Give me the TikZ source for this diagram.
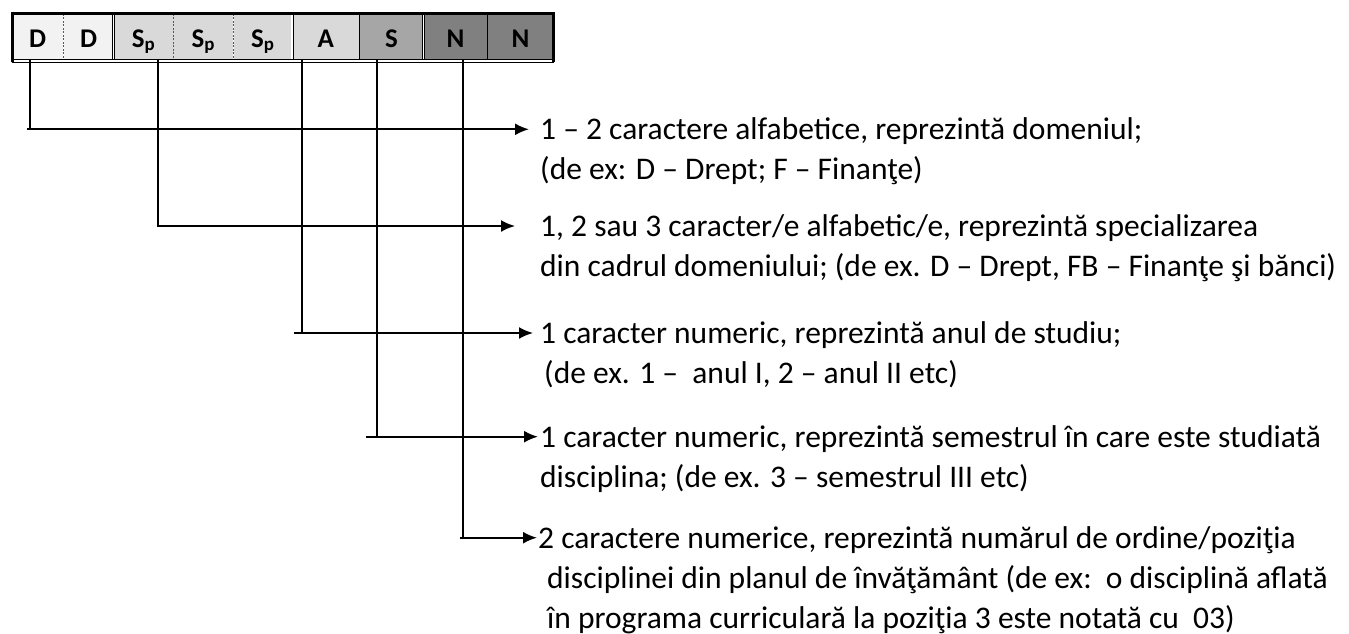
\documentclass[tikz,border=0pt]{standalone}
\usepackage{fontspec}
\setmainfont{Carlito}
\usetikzlibrary{arrows.meta,positioning}
\definecolor{celllight}{HTML}{F2F2F2}
\definecolor{cellmid}{HTML}{D9D9D9}
\definecolor{celldark}{HTML}{A6A6A6}
\definecolor{celldeep}{HTML}{808080}
\definecolor{sepgray}{HTML}{595959}
\newcommand{\spcode}{S\textsubscript{p}}
\newcommand{\desclines}[1]{\begin{tabular}[t]{@{}l@{}}#1\end{tabular}}

\begin{document}
\begin{tikzpicture}[x=1pt,y=-1pt,node distance=0pt]
  \tikzset{codecell/.style={inner sep=0pt, minimum height=45.2pt, text height=21pt, text depth=0pt, font=\fontsize{27}{32}\selectfont\bfseries},
    desc/.style={anchor=base west, inner sep=0pt, font=\fontsize{31.5}{40}\selectfont},
    link/.style={line width=2pt},
    pointer/.style={line width=2pt, -{Latex[length=14pt,width=12pt]}},
    dashsep/.style={line width=1pt, sepgray, dash pattern=on 2pt off 1.5pt},
    dblsep/.style={double=white, double distance=1.2pt, line width=0.9pt},
    onesep/.style={line width=1.3pt}}
  \useasboundingbox (0,0) rectangle (1349,634);
  % the code
  \node[codecell, fill=celllight, minimum width=51pt, anchor=north west] (c1) at (12,13.8) {D};
  \node[codecell, fill=celllight, minimum width=50pt, right=of c1] (c2) {D};
  \node[codecell, fill=cellmid, minimum width=59pt, right=of c2] (c3) {\spcode};
  \node[codecell, fill=cellmid, minimum width=60pt, right=of c3] (c4) {\spcode};
  \node[codecell, fill=cellmid, minimum width=58pt, right=of c4] (c5) {\spcode};
  \node[codecell, fill=cellmid, minimum width=67pt, right=of c5] (c6) {A};
  \node[codecell, fill=celldark, minimum width=64pt, right=of c6] (c7) {S};
  \node[codecell, fill=celldeep, minimum width=63pt, right=of c7] (c8) {N};
  \node[codecell, fill=celldeep, minimum width=66pt, right=of c8] (c9) {N};
  \draw[dashsep] (c1.north east) -- (c1.south east);
  \draw[dblsep] (c2.north east) -- (c2.south east);
  \draw[dashsep] (c3.north east) -- (c3.south east);
  \draw[dashsep] (c4.north east) -- (c4.south east);
  \draw[dblsep] (c5.north east) -- (c5.south east);
  \draw[onesep] (c6.north east) -- (c6.south east);
  \draw[dblsep] (c7.north east) -- (c7.south east);
  \draw[onesep] (c8.north east) -- (c8.south east);
  \draw[line width=3pt] ([yshift=-3pt]c1.south west) -- (c1.north west) -- (c9.north east) -- ([yshift=-3pt]c9.south east);
  \draw[line width=1.3pt] (c1.south west) -- (c9.south east);
  \draw[line width=1.3pt] ([yshift=-2.8pt]c1.south west) -- ([yshift=-2.8pt]c9.south east);

  % explanations
  \node[desc] (t1) at (540,139) {\desclines{1 – 2 caractere alfabetice, reprezintă domeniul;\\(de ex: D – Drept; F – Finanţe)}};
  \node[desc] (t2) at (540,236) {\desclines{1, 2 sau 3 caracter/e alfabetic/e, reprezintă specializarea\\din cadrul domeniului; (de ex. D – Drept, FB – Finanţe şi bănci)}};
  \node[desc] (t3) at (540,343) {\desclines{1 caracter numeric, reprezintă anul de studiu;\\\hspace*{4pt}(de ex. 1 –\ \ anul I, 2 – anul II etc)}};
  \node[desc] (t4) at (540,447) {\desclines{1 caracter numeric, reprezintă semestrul în care este studiată\\disciplina; (de ex. 3 – semestrul III etc)}};
  \node[desc] (t5) at (538,548) {\desclines{2 caractere numerice, reprezintă numărul de ordine/poziţia\\\hspace*{9pt}disciplinei din planul de învăţământ (de ex:\ \ o disciplină aflată\\\hspace*{9pt}în programa curriculară la poziţia 3 este notată cu\ \ 03)}};

  % connectors
  \coordinate (k1) at (30,129.3);
  \coordinate (k2) at (158,226);
  \coordinate (k3) at (302,333);
  \coordinate (k4) at (377,436.7);
  \coordinate (k5) at (463,537.7);
  \draw[link] (c1.south -| k1) -- (k1);
  \draw[link] (c3.south -| k2) -- (k2);
  \draw[link] (c6.south -| k3) -- (k3);
  \draw[link] (c7.south -| k4) -- (k4);
  \draw[link] (c8.south -| k5) -- (k5);
  \draw[pointer] ([xshift=-3pt]k1) -- ([xshift=-11pt]k1 -| t1.west);
  \draw[pointer] ([xshift=-1pt]k2) -- ([xshift=-25pt]k2 -| t2.west);
  \draw[pointer] ([xshift=-8pt]k3) -- ([xshift=-7pt]k3 -| t3.west);
  \draw[pointer] ([xshift=-11pt]k4) -- ([xshift=-2pt]k4 -| t4.west);
  \draw[pointer] ([xshift=-3pt]k5) -- ([xshift=-1pt]k5 -| t5.west);
\end{tikzpicture}
\end{document}
